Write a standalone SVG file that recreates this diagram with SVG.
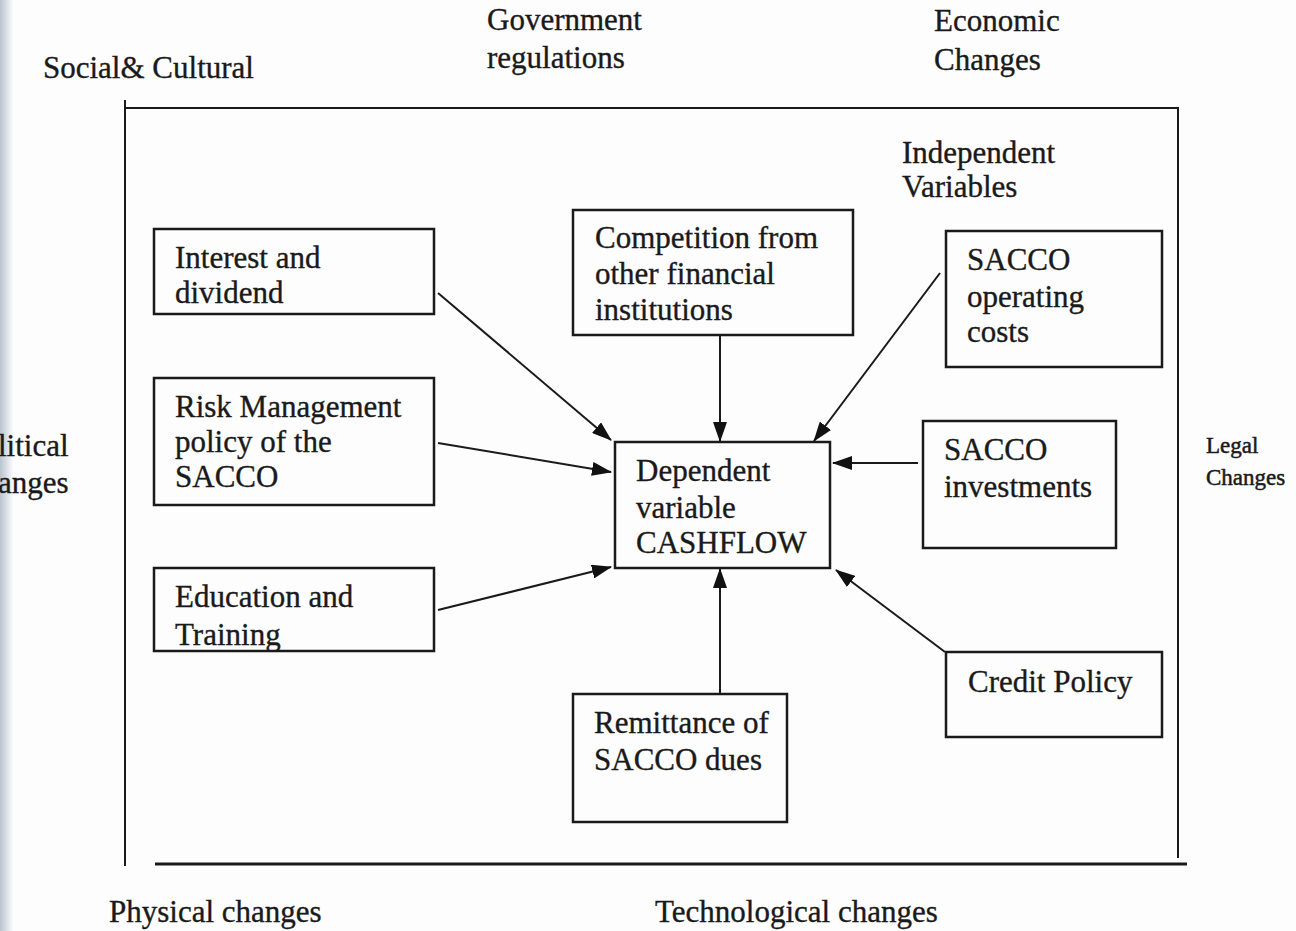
<svg xmlns="http://www.w3.org/2000/svg" width="1296" height="931" viewBox="0 0 1296 931">
<defs>
<marker id="ah" viewBox="0 0 20 14" refX="19" refY="7" markerWidth="20" markerHeight="14" markerUnits="userSpaceOnUse" orient="auto">
<path d="M0,0 L20,7 L0,14 Z" fill="#111"/>
</marker>
<linearGradient id="edge" x1="0" y1="0" x2="1" y2="0">
<stop offset="0" stop-color="#b9c3cf"/>
<stop offset="1" stop-color="#ffffff"/>
</linearGradient>
<clipPath id="eduClip"><rect x="154" y="568" width="280" height="82"/></clipPath>
</defs>
<style>
text { font-family: "Liberation Serif", "Times New Roman", serif; font-size: 31px; fill: #1a1a1a; stroke: #1a1a1a; stroke-width: 0.35; }
.box { fill: none; stroke: #1a1a1a; stroke-width: 2.5; }
.frame { stroke: #1a1a1a; stroke-width: 2; fill: none; }
.conn { stroke: #1a1a1a; stroke-width: 2; fill: none; marker-end: url(#ah); }
.small { font-size: 23px; stroke-width: 0.5; }
</style>
<rect width="1296" height="931" fill="#fdfdfd"/>
<rect x="0" y="0" width="14" height="931" fill="url(#edge)"/>

<g id="context">
<text x="43" y="78">Social&amp; Cultural</text>
<text x="487" y="30">Government</text>
<text x="487" y="68">regulations</text>
<text x="934" y="31">Economic</text>
<text x="934" y="70">Changes</text>
<text x="-2" y="456">litical</text>
<text x="-2" y="493">anges</text>
<text x="1206" y="453" class="small">Legal</text>
<text x="1206" y="485" class="small">Changes</text>
<text x="109" y="922">Physical changes</text>
<text x="655" y="922">Technological changes</text>
</g>

<g id="frame">
<line class="frame" x1="125" y1="100" x2="125" y2="866"/>
<line class="frame" x1="124" y1="108" x2="1179" y2="108"/>
<line class="frame" x1="1178" y1="107" x2="1178" y2="858"/>
<line x1="155" y1="864" x2="1187" y2="864" stroke="#1a1a1a" stroke-width="3"/>
<text x="902" y="163">Independent</text>
<text x="902" y="197">Variables</text>
</g>

<g id="interest">
<rect class="box" x="154" y="229" width="280" height="85"/>
<text x="175" y="268">Interest and</text>
<text x="175" y="303">dividend</text>
</g>

<g id="risk">
<rect class="box" x="154" y="378" width="280" height="127"/>
<text x="175" y="417">Risk Management</text>
<text x="175" y="452">policy of the</text>
<text x="175" y="487">SACCO</text>
</g>

<g id="education">
<rect class="box" x="154" y="568" width="280" height="83"/>
<text x="175" y="607">Education and</text>
<text x="175" y="645" clip-path="url(#eduClip)">Training</text>
</g>

<g id="competition">
<rect class="box" x="573" y="210" width="280" height="125"/>
<text x="595" y="248">Competition from</text>
<text x="595" y="284">other financial</text>
<text x="595" y="320">institutions</text>
</g>

<g id="operating">
<rect class="box" x="946" y="231" width="216" height="136"/>
<text x="967" y="270">SACCO</text>
<text x="967" y="307">operating</text>
<text x="967" y="342">costs</text>
</g>

<g id="investments">
<rect class="box" x="923" y="421" width="193" height="127"/>
<text x="944" y="460">SACCO</text>
<text x="944" y="497">investments</text>
</g>

<g id="dependent">
<rect class="box" x="615" y="442" width="215" height="126"/>
<text x="636" y="481">Dependent</text>
<text x="636" y="518">variable</text>
<text x="636" y="553">CASHFLOW</text>
</g>

<g id="credit">
<rect class="box" x="946" y="652" width="216" height="85"/>
<text x="968" y="692">Credit Policy</text>
</g>

<g id="remittance">
<rect class="box" x="573" y="694" width="214" height="128"/>
<text x="594" y="733">Remittance of</text>
<text x="594" y="770">SACCO dues</text>
</g>

<g id="connectors">
<line class="conn" x1="438" y1="293" x2="611" y2="440"/>
<line class="conn" x1="438" y1="443" x2="611" y2="472"/>
<line class="conn" x1="438" y1="610" x2="611" y2="567"/>
<line class="conn" x1="720" y1="336" x2="720" y2="441"/>
<line class="conn" x1="940" y1="273" x2="814" y2="441"/>
<line class="conn" x1="918" y1="463" x2="833" y2="463"/>
<line class="conn" x1="945" y1="652" x2="836" y2="570"/>
<line class="conn" x1="720" y1="694" x2="720" y2="569"/>
</g>
</svg>
